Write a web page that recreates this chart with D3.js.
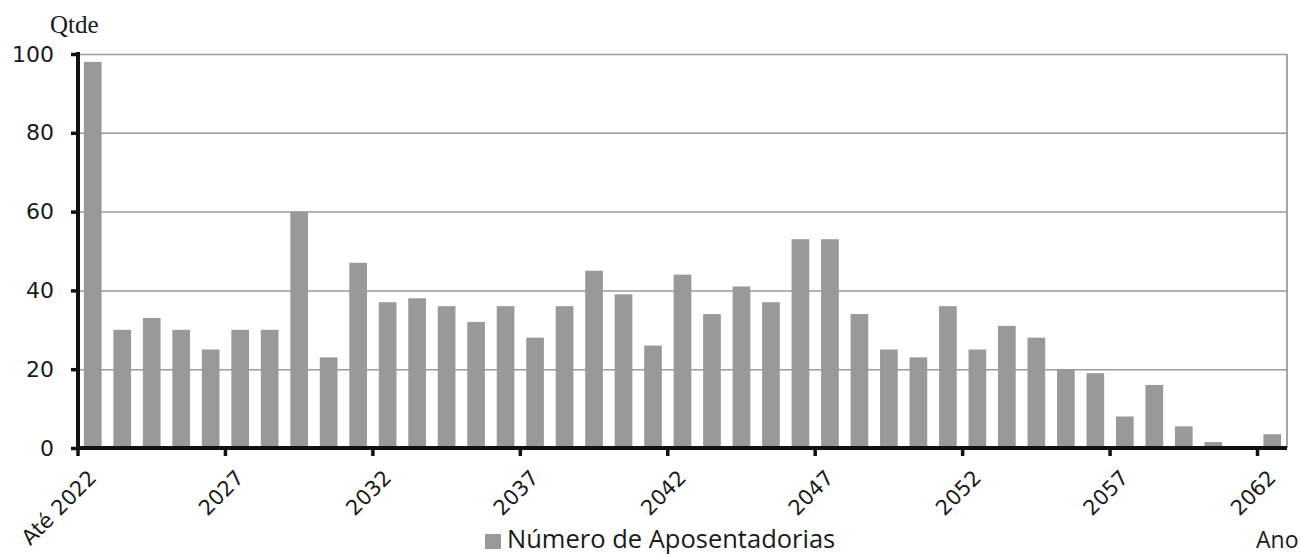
<!DOCTYPE html>
<html><head><meta charset="utf-8">
<script src="https://cdn.jsdelivr.net/npm/d3@7"></script>
<style>body{margin:0;background:#fff;} svg{display:block}</style>
</head><body><svg id="c" width="1301" height="554"></svg>
<script>
const categories = ["Até 2022","2023","2024","2025","2026","2027","2028","2029","2030","2031","2032","2033","2034","2035","2036","2037","2038","2039","2040","2041","2042","2043","2044","2045","2046","2047","2048","2049","2050","2051","2052","2053","2054","2055","2056","2057","2058","2059","2060","2061","2062"];
const values = [98,30,33,30,25,30,30,60,23,47,37,38,36,32,36,28,36,45,39,26,44,34,41,37,53,53,34,25,23,36,25,31,28,20,19,8,16,5.5,1.5,0.5,3.5];
const yTicks = [0,20,40,60,80,100];
const xLabelCats = ["Até 2022","2027","2032","2037","2042","2047","2052","2057","2062"];
const yTitle = "Qtde";
const xTitle = "Ano";
const seriesName = "Número de Aposentadorias";

const m = {left:78, right:1287, top:54, bottom:448};
const svg = d3.select("#c");
const x = d3.scaleBand().domain(categories).range([m.left, m.right]).paddingInner(0.4).paddingOuter(0.2);
const y = d3.scaleLinear().domain([0, 100]).range([m.bottom, m.top]);
const barColor = "#999999";

// gridlines
svg.append("g").attr("transform", `translate(${m.left},0)`)
  .call(d3.axisLeft(y).tickValues(yTicks.filter(d => d > 0)).tickSize(-(m.right - m.left)).tickFormat(""))
  .call(g => g.select(".domain").remove())
  .selectAll("line").attr("stroke", "#9a9a9a").attr("stroke-width", 1.5);

// right border of plot area
svg.append("line").attr("x1", m.right).attr("x2", m.right).attr("y1", y(100)).attr("y2", y(0))
  .attr("stroke", "#8a8a8a").attr("stroke-width", 1.5);

// bars
svg.append("g").selectAll("rect").data(values).join("rect")
  .attr("x", (d, i) => x(categories[i]))
  .attr("width", x.bandwidth())
  .attr("y", d => y(d))
  .attr("height", d => y(0) - y(d))
  .attr("fill", barColor);

// y axis
const yAxis = svg.append("g").attr("transform", `translate(${m.left},0)`)
  .call(d3.axisLeft(y).tickValues(yTicks).tickSize(7).tickSizeOuter(0).tickPadding(17));
yAxis.select(".domain").attr("stroke", "#111").attr("stroke-width", 4)
  .attr("d", `M0,${y(100) - 2}V${y(0)}`);
yAxis.selectAll(".tick line").attr("stroke", "#111").attr("stroke-width", 3.5);
yAxis.selectAll("text").attr("font-family", "DejaVu Sans").attr("font-size", 22).attr("fill", "#1a1a1a");

// x axis tick marks at category boundaries
const xTicks = svg.append("g").attr("transform", `translate(0,${y(0)})`)
  .call(d3.axisBottom(x).tickValues(xLabelCats).tickSize(8).tickSizeOuter(0).tickFormat(""));
xTicks.select(".domain").remove();
xTicks.selectAll(".tick line").attr("stroke", "#111").attr("stroke-width", 3.5)
  .attr("transform", `translate(${-x.step() / 2},0)`);

// x axis with rotated labels
const xAxis = svg.append("g").attr("transform", `translate(0,${y(0)})`)
  .call(d3.axisBottom(x).tickValues(xLabelCats).tickSize(0).tickSizeOuter(0));
xAxis.select(".domain").attr("stroke", "#111").attr("stroke-width", 4)
  .attr("d", `M${m.left - 2},0H${m.right}`);
xAxis.selectAll("text")
  .attr("x", 0).attr("y", 0).attr("dy", 0)
  .attr("text-anchor", "end")
  .attr("transform", "translate(5,31) rotate(-45)")
  .attr("font-family", "DejaVu Sans").attr("font-size", 21).attr("fill", "#1a1a1a");

// titles
svg.append("text").attr("x", 50).attr("y", 33).text(yTitle)
  .attr("font-family", "Liberation Serif").attr("font-size", 25).attr("fill", "#1a1a1a");
svg.append("text").attr("x", 1256).attr("y", 548).text(xTitle)
  .attr("font-family", "Open Sans").attr("font-size", 23).attr("fill", "#1a1a1a");

// legend
svg.append("rect").attr("x", 485).attr("y", 534).attr("width", 16).attr("height", 15).attr("fill", barColor);
svg.append("text").attr("x", 507).attr("y", 548).text(seriesName)
  .attr("font-family", "Open Sans").attr("font-size", 25.5).attr("fill", "#1a1a1a");
</script></body></html>
